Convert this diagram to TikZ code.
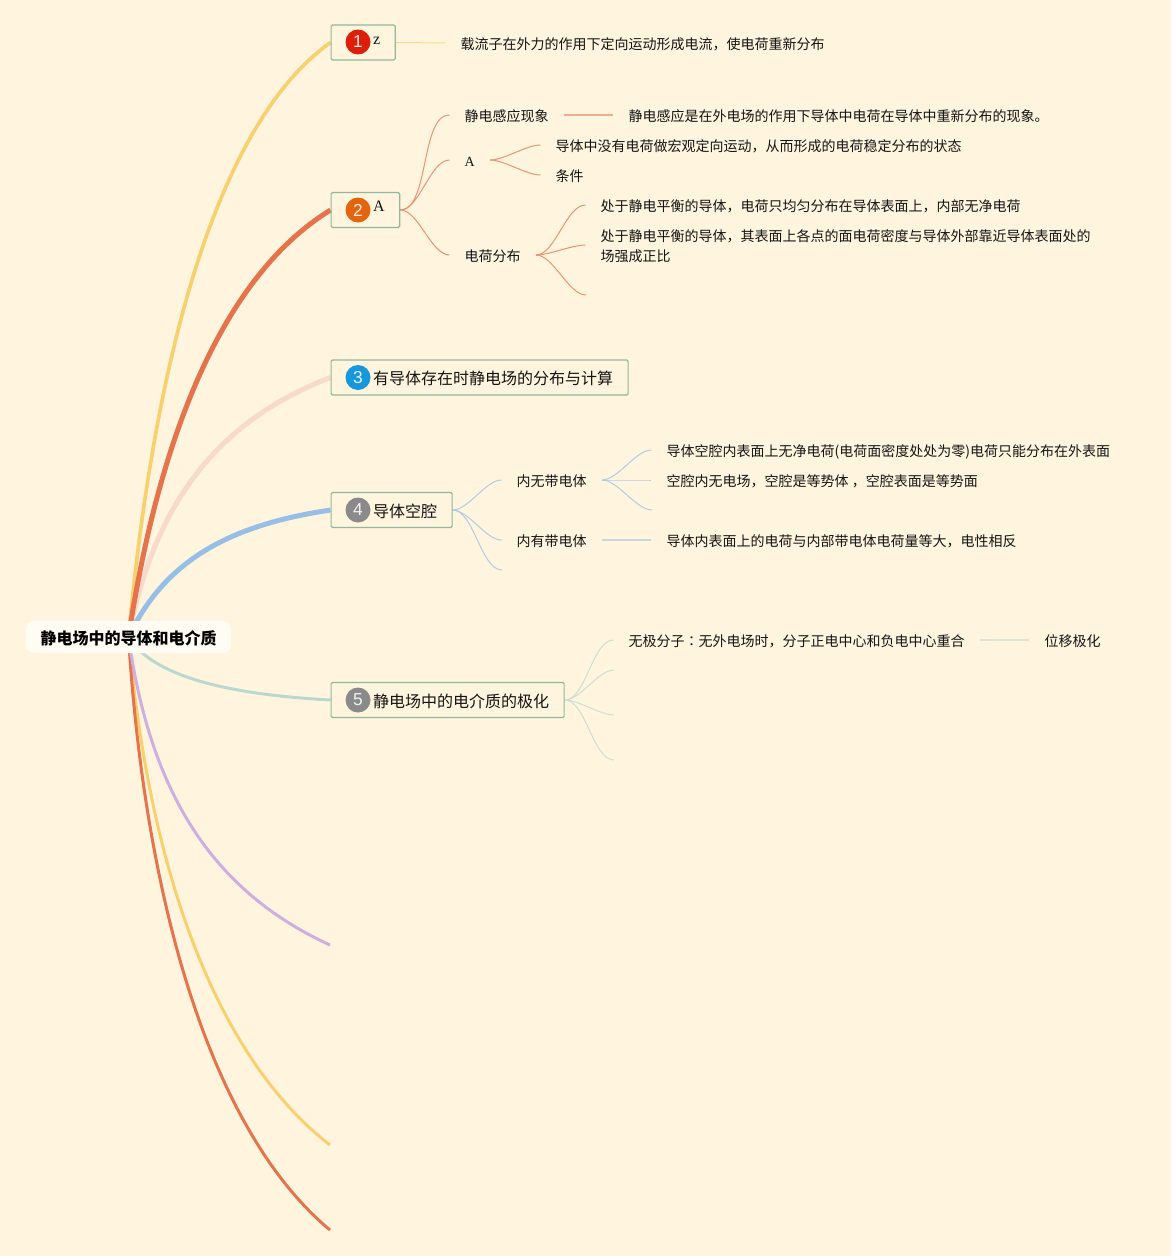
\documentclass[tikz,border=0pt]{standalone}
\usepackage{fontspec}
\setmainfont{Liberation Serif}
\newfontfamily\cjk{Noto Sans CJK SC}
\newfontfamily\cjktc{Noto Sans CJK TC}
\newfontfamily\num{Liberation Sans}
\usetikzlibrary{backgrounds}
\definecolor{paper}{HTML}{FFF5DF}
\definecolor{rootfill}{HTML}{FFFCF3}
\definecolor{boxline}{HTML}{8FB89C}
\definecolor{ink}{HTML}{141414}
\definecolor{yellowline}{HTML}{F9D06E}
\definecolor{redline}{HTML}{E5734B}
\definecolor{pinkline}{HTML}{F8D9CC}
\definecolor{blueline}{HTML}{97BFE6}
\definecolor{tealline}{HTML}{BAD8D0}
\definecolor{purpleline}{HTML}{CFAEE0}
\definecolor{iconred}{HTML}{DD1F0A}
\definecolor{iconorange}{HTML}{E4650E}
\definecolor{iconblue}{HTML}{1797DC}
\definecolor{icongrey}{HTML}{8A8A8A}
\tikzset{
	rootnode/.style={fill=rootfill, rounded corners=6pt, minimum width=153.75pt, minimum height=24pt, inner sep=0pt, text height=13pt, text depth=1.4pt, text=black, font=\cjk\bfseries\fontsize{12pt}{15pt}\selectfont},
	topic/.style={draw=boxline, line width=0.9pt, rounded corners=1pt, anchor=west, minimum height=26.25pt, inner xsep=11.25pt, inner ysep=0pt, text height=12.5pt, text depth=1.4pt, text=ink, font=\cjk\fontsize{12pt}{15pt}\selectfont},
	leaf/.style={anchor=west, xshift=-0.4pt, inner xsep=11.25pt, inner ysep=2pt, text height=11.5pt, text depth=1.4pt, align=left, text=ink, font=\cjk\fontsize{10.5pt}{15pt}\selectfont},
	icon/.style={circle, fill=#1, minimum size=18.75pt, inner sep=0pt, text=white!90!#1, font=\num\fontsize{13pt}{15pt}\selectfont},
	stem/.style={draw=#1, line width=3.75pt},
	slimstem/.style={draw=#1, line width=2.75pt},
	thinstem/.style={draw=#1, line width=2.25pt},
	twig/.style={draw=#1!75!paper, line width=0.75pt},
	bar/.style={draw=#1!55!paper, line width=1.1pt},
}
\newcommand{\iconroom}{\hspace*{20.25pt}}
\begin{document}
\begin{tikzpicture}[x=0.75pt, y=-0.75pt]
		\useasboundingbox (0, 0) rectangle (1171, 1256);

		%%%%% NODES %%%%%
		\node[rootnode] (root) at (128.5, 637) {静电场中的导体和电介质};

		\node[topic, minimum width=48pt] (topicz) at (330.5, 42.5) {\iconroom\raisebox{4.2pt}{\rmfamily z}};
		\node[topic] (topicA) at (330.5, 210) {\iconroom\raisebox{4.2pt}{\rmfamily A}};
		\node[topic] (topicfield) at (330.5, 377.5) {\iconroom 有导体存在时静电场的分布与计算};
		\node[topic] (topiccavity) at (330.5, 510) {\iconroom 导体空腔};
		\node[topic] (topicmedium) at (330.5, 700) {\iconroom 静电场中的电介质的极化};

		\node[icon=iconred] at (358, 42) {1};
		\node[icon=iconorange] at (358, 210) {2};
		\node[icon=iconblue] at (358, 377.5) {3};
		\node[icon=icongrey] at (358, 510) {4};
		\node[icon=icongrey] at (358, 700) {5};

		\node[leaf] (carrier) at (446, 43) {载流子在外力的作用下定向运动形成电流，使电荷重新分布};

		\node[leaf] (induction) at (450, 115) {静电感应现象};
		\node[leaf] (inductiontext) at (614, 115) {静电感应是在外电场的作用下导体中电荷在导体中重新分布的现象。};
		\node[leaf] (letterA) at (450, 160) {\rmfamily A};
		\node[leaf] (nomotion) at (541, 145) {导体中没有电荷做宏观定向运动，从而形成的电荷稳定分布的状态};
		\node[leaf] (condition) at (541, 175) {条件};
		\node[leaf] (charge) at (450, 255) {电荷分布};
		\node[leaf] (surface) at (586, 205) {处于静电平衡的导体，电荷只均匀分布在导体表面上，内部无净电荷};
		\node[leaf, text height=26.5pt] (density) at (586, 245) {处于静电平衡的导体，其表面上各点的面电荷密度与导体外部靠近导体表面处的\\场强成正比};
		\coordinate (chargeend) at (586, 295);

		\node[leaf] (nocharge) at (502, 480) {内无带电体};
		\node[leaf] (hascharge) at (502, 540) {内有带电体};
		\coordinate (cavityend) at (502, 570);
		\node[leaf] (innersurface) at (652, 450) {导体空腔内表面上无净电荷(电荷面密度处处为零)电荷只能分布在外表面};
		\node[leaf] (equipotential) at (652, 480) {空腔内无电场，空腔是等势体 ，空腔表面是等势面};
		\coordinate (nochargeend) at (652, 510);
		\node[leaf] (innercharge) at (652, 540) {导体内表面上的电荷与内部带电体电荷量等大，电性相反};

		\node[leaf] (nonpolar) at (614, 640) {无极分子{\cjktc ：}无外电场时，分子正电中心和负电中心重合};
		\node[leaf] (shift) at (1030, 640) {位移极化};
		\coordinate (mediumb) at (614, 670);
		\coordinate (mediumc) at (614, 715);
		\coordinate (mediumd) at (614, 760);

		\coordinate (endsix) at (330, 945);
		\coordinate (endseven) at (330, 1145);
		\coordinate (endeight) at (330, 1230);

		%%%%% LINES %%%%%
		\begin{scope}[on background layer]
			\fill[paper] (0, 0) rectangle (1171, 1256);

			\draw[thinstem=yellowline] (root.center) .. controls (150, 880) and (220, 1060) .. (endseven);
			\draw[thinstem=redline] (root.center) .. controls (145, 900) and (210, 1130) .. (endeight);
			\draw[thinstem=purpleline] (root.center) .. controls (150, 790) and (210, 890) .. (endsix);
			\draw[thinstem=tealline] (root.center) .. controls (155, 680) and (240, 695) .. (topicmedium.west);
			\draw[slimstem=yellowline] (root.center) .. controls (160, 300) and (235, 110) .. (topicz.west);
			\draw[stem=pinkline] (root.center) .. controls (155, 500) and (220, 420) .. (topicfield.west);
			\draw[stem=blueline] (root.center) .. controls (165, 560) and (230, 525) .. (topiccavity.west);
			\draw[stem=redline] (root.center) .. controls (160, 430) and (225, 275) .. (topicA.west);

			\draw[twig=yellowline] (topicz.east) -- (carrier.west);

			\foreach \a/\b in {topicA/induction, topicA/letterA, topicA/charge, letterA/nomotion, letterA/condition, charge/surface, charge/density, charge/chargeend}
				\draw[twig=redline] (\a.east) to[out=0, in=180, looseness=0.7] (\b);
			\draw[bar=redline] (induction.east) -- (inductiontext.west);

			\foreach \a/\b in {topiccavity/nocharge, topiccavity/hascharge, topiccavity/cavityend, nocharge/innersurface, nocharge/equipotential, nocharge/nochargeend}
				\draw[twig=blueline] (\a.east) to[out=0, in=180, looseness=0.7] (\b);
			\draw[bar=blueline] (hascharge.east) -- (innercharge.west);

			\foreach \b in {nonpolar, mediumb, mediumc, mediumd}
				\draw[twig=tealline] (topicmedium.east) to[out=0, in=180, looseness=0.7] (\b);
			\draw[bar=tealline] (nonpolar.east) -- (shift.west);
		\end{scope}
	\end{tikzpicture}
\end{document}
